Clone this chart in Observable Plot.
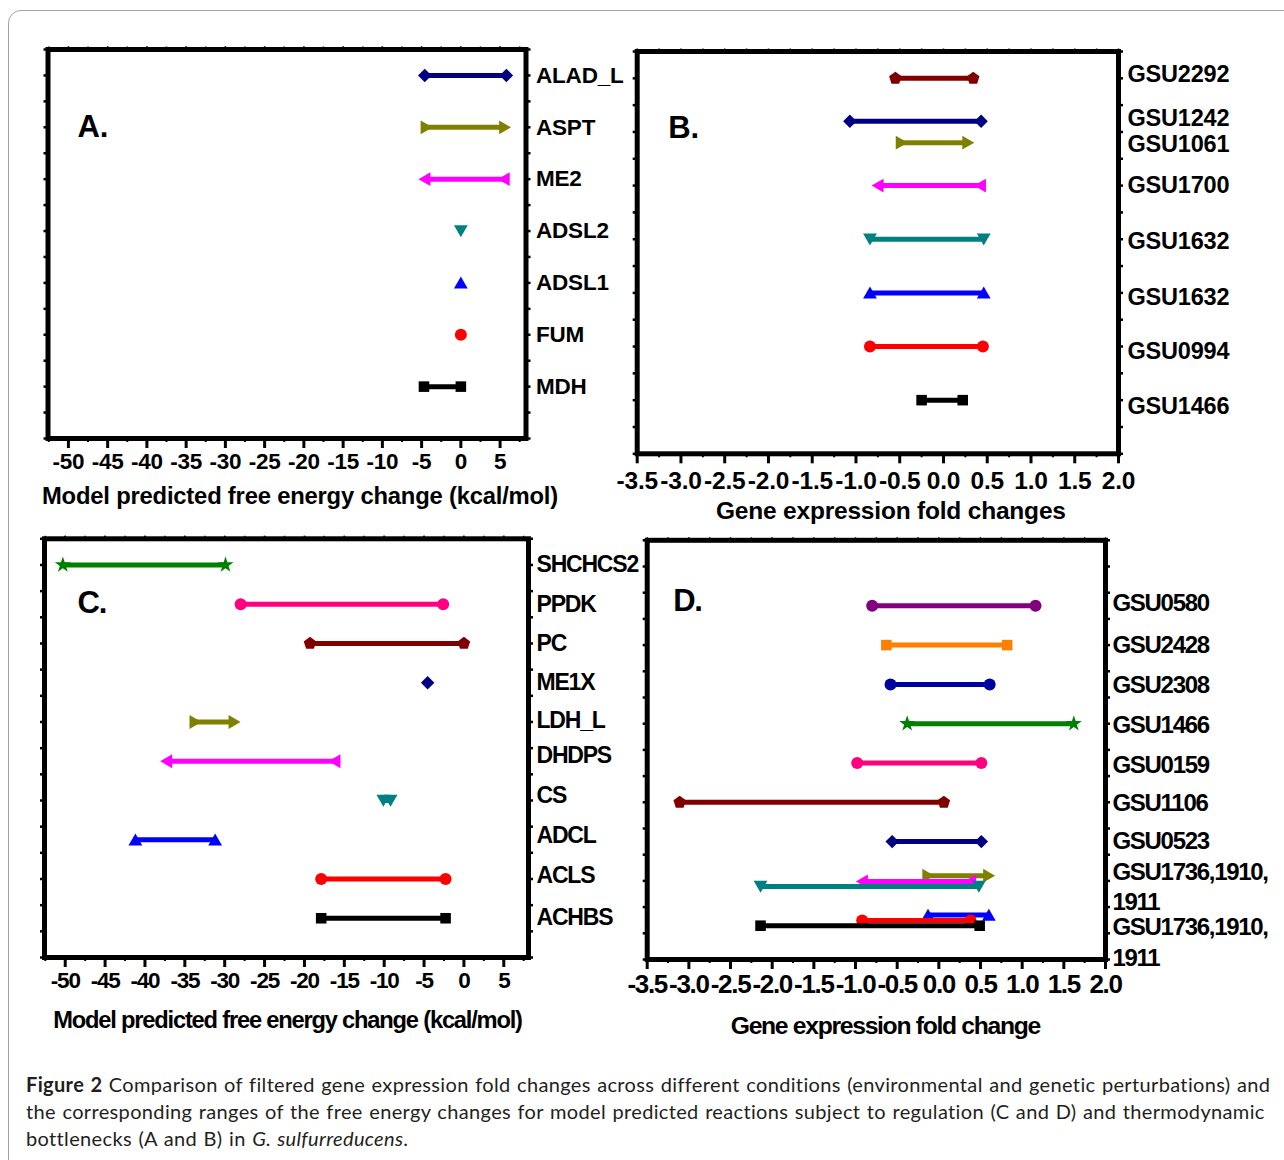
<!DOCTYPE html>
<html><head><meta charset="utf-8">
<script src="https://cdn.jsdelivr.net/npm/d3@7"></script>
<script src="https://cdn.jsdelivr.net/npm/@observablehq/plot@0.6"></script>
<style>
html,body{margin:0;padding:0;background:#fff;}
#fig{position:relative;width:1284px;height:1160px;overflow:hidden;background:#fff;}
#border{position:absolute;left:8px;top:10px;width:1320px;height:1220px;border:1px solid #a3a3a3;border-radius:13px;box-sizing:border-box;}
.panel{position:absolute;}
#caption{position:absolute;left:26px;top:1071px;font-family:Lato,"Open Sans",sans-serif;font-size:20px;letter-spacing:0.35px;word-spacing:1px;line-height:27px;color:#231f20;white-space:nowrap;}
</style></head><body>
<div id="fig">
<div id="border"></div>
<div id="pA" class="panel" style="left:0px;top:0px"></div>
<div id="pB" class="panel" style="left:600px;top:0px"></div>
<div id="pC" class="panel" style="left:0px;top:530px"></div>
<div id="pD" class="panel" style="left:600px;top:530px"></div>
<div id="caption"><b>Figure 2</b> Comparison of filtered gene expression fold changes across different conditions (environmental and genetic perturbations) and<br>the corresponding ranges of the free energy changes for model predicted reactions subject to regulation (C and D) and thermodynamic<br>bottlenecks (A and B) in <i>G. sulfurreducens</i>.</div>
</div>
<script>
// ---------- DATA ----------
// Panel A: thermodynamic bottlenecks, free energy range (kcal/mol)
const labelsA = ["ALAD_L","ASPT","ME2","ADSL2","ADSL1","FUM","MDH"];
const rowsA   = [1,2,3,4,5,6,7];
const lowA    = [-4.6,-4.4,-4.6,0,0,0,-4.7];
const highA   = [5.8,5.6,5.5,0,0,0,0];
const ticksA  = [-50,-45,-40,-35,-30,-25,-20,-15,-10,-5,0,5];

// Panel B: gene expression fold changes (bottleneck genes)
const labelsB    = ["GSU2292","GSU1242","GSU1061","GSU1700","GSU1632","GSU1632","GSU0994","GSU1466"];
const rowsB      = [1,1.8,2.2,3,4,5,6,7];
const labelRowsB = [0.93,1.74,2.24,3.0,4.04,5.09,6.1,7.12];
const lowB       = [-0.55,-1.07,-0.48,-0.75,-0.84,-0.84,-0.84,-0.25];
const highB      = [0.34,0.43,0.28,0.42,0.46,0.46,0.45,0.22];
const ticksB     = [-3.5,-3.0,-2.5,-2.0,-1.5,-1.0,-0.5,0.0,0.5,1.0,1.5,2.0];

// Panel C: reactions subject to regulation, free energy range (kcal/mol)
const labelsC    = ["SHCHCS2","PPDK","PC","ME1X","LDH_L","DHDPS","CS","ADCL","ACLS","ACHBS"];
const rowsC      = [1,2.5,4,5.5,7,8.5,10,11.5,13,14.5];
const labelRowsC = [0.98,2.51,4.0,5.5,6.95,8.29,9.82,11.35,12.88,14.48];
const lowC       = [-50.3,-28.0,-19.3,-4.55,-33.7,-37.3,-10.1,-41.2,-17.9,-17.9];
const highC      = [-29.9,-2.6,0.0,-4.55,-28.8,-16.2,-9.2,-31.2,-2.3,-2.3];
const ticksC     = [-50,-45,-40,-35,-30,-25,-20,-15,-10,-5,0,5];

// Panel D: gene expression fold change (regulated genes)
const seriesD    = ["GSU0580","GSU2428","GSU2308","GSU1466","GSU0159","GSU1106","GSU0523","GSU1736a","GSU1910a","GSU1911a","GSU1736b","GSU1910b","GSU1911b"];
const rowsD      = [2.5,4,5.5,7,8.5,10,11.5,12.8,13.02,13.21,14.3,14.51,14.71];
const lowD       = [-0.80,-0.63,-0.58,-0.38,-0.98,-3.11,-0.56,-0.13,-0.92,-2.14,-0.13,-0.92,-2.14];
const highD      = [1.16,0.82,0.61,1.62,0.51,0.06,0.51,0.60,0.38,0.48,0.60,0.38,0.49];
const labelsD    = ["GSU0580","GSU2428","GSU2308","GSU1466","GSU0159","GSU1106","GSU0523","GSU1736,1910,","1911","GSU1736,1910,","1911"];
const labelRowsD = [2.41,4.02,5.54,7.06,8.59,10.04,11.49,12.67,13.81,14.77,15.97];
const ticksD     = [-3.5,-3.0,-2.5,-2.0,-1.5,-1.0,-0.5,0.0,0.5,1.0,1.5,2.0];

// ---------- STYLES ----------
const colorsA  = ["#000080","#808000","#ff00ff","#008080","#0000ff","#ff0000","#000000"];
const symbolsA = ["diamond","triRight","triLeft","triDown","triUp","circle","square"];
const colorsB  = ["#800000","#000080","#808000","#ff00ff","#008080","#0000ff","#ff0000","#000000"];
const symbolsB = ["pentagon","diamond","triRight","triLeft","triDown","triUp","circle","square"];
const colorsC  = ["#008000","#ff0080","#800000","#000080","#808000","#ff00ff","#008080","#0000ff","#ff0000","#000000"];
const symbolsC = ["star","circle","pentagon","diamond","triRight","triLeft","triDown","triUp","circle","square"];
const colorsD  = ["#800080","#ff8000","#0000a0","#008000","#ff0080","#800000","#000080","#808000","#ff00ff","#008080","#0000ff","#ff0000","#000000"];
const symbolsD = ["circle","square","circle","star","circle","pentagon","diamond","triRight","triLeft","triDown","triUp","circle","square"];

const FONT = "'Liberation Sans', Arial, Helvetica, sans-serif";

function poly(pts) {
  return {draw(c, size) {
    const r = Math.sqrt(size / Math.PI);
    pts.forEach(([px, py], i) => i ? c.lineTo(px * r, py * r) : c.moveTo(px * r, py * r));
    c.closePath();
  }};
}
const pent = d3.range(5).map(k => [1.1 * Math.sin(k * 2 * Math.PI / 5), -1.1 * Math.cos(k * 2 * Math.PI / 5)]);
const SYM = {
  circle: {draw(c, size) { const r = Math.sqrt(size / Math.PI); c.moveTo(r, 0); c.arc(0, 0, r, 0, 2 * Math.PI); }},
  square: {draw(c, size) { const r = Math.sqrt(size / Math.PI) * 0.88; c.rect(-r, -r, 2 * r, 2 * r); }},
  diamond: poly([[0, -1.12], [1.12, 0], [0, 1.12], [-1.12, 0]]),
  triUp: poly([[0, -1.05], [1.15, 0.95], [-1.15, 0.95]]),
  triDown: poly([[0, 1.05], [1.15, -0.95], [-1.15, -0.95]]),
  triRight: poly([[1.05, 0], [-0.95, 1.15], [-0.95, -1.15]]),
  triLeft: poly([[-1.05, 0], [0.95, 1.15], [0.95, -1.15]]),
  pentagon: poly(pent),
  star: {draw(c, size) { d3.symbolStar.draw(c, size * 0.7); }}
};

function range(a, b, s) { const out = []; for (let v = a; v <= b + 1e-9; v += s) out.push(+v.toFixed(4)); return out; }

function panel(o) {
  const marks = [];
  const n = o.rows.length;
  for (let i = 0; i < n; i++) {
    marks.push(Plot.ruleY([i], {y: () => o.rows[i], x1: () => o.low[i], x2: () => o.high[i], stroke: o.colors[i], strokeWidth: o.lineWidth}));
    const pts = o.low[i] === o.high[i] ? [o.low[i]] : [o.low[i], o.high[i]];
    marks.push(Plot.dot(pts, {x: d => d, y: () => o.rows[i], symbol: SYM[o.symbols[i]], fill: o.colors[i], r: o.r}));
  }
  marks.push(
    Plot.frame({stroke: "black", strokeWidth: 5}),
    Plot.axisX({ticks: o.xMinor, tickSize: 4, tickFormat: () => "", label: null, strokeWidth: 2}),
    Plot.axisX({anchor: "top", ticks: o.xTicks.concat(o.xMinor), tickSize: 3.5, tickFormat: () => "", label: null, strokeWidth: 1.5}),
    Plot.axisX({ticks: o.xTicks, tickSize: 10, tickPadding: o.tickPadding, tickFormat: o.tickFormat, label: null,
      strokeWidth: 3, fontSize: o.tickFont, fontWeight: "bold", fontFamily: FONT, fill: "black"}),
    Plot.axisY({anchor: "left", ticks: o.yTicks, tickSize: 4, tickFormat: () => "", label: null, strokeWidth: 2.5}),
    Plot.axisY({anchor: "right", ticks: o.yTicks, tickSize: 4, tickFormat: () => "", label: null, strokeWidth: 2.5}),
    Plot.text(o.labels, {y: (d, i) => o.labelRows[i], text: d => d, frameAnchor: "right", textAnchor: "start", lineAnchor: "middle",
      dx: o.labelDx, fontSize: o.labelFont, fontWeight: "bold", fontFamily: FONT, fill: "black"}),
    Plot.text([o.letter], {text: d => d, frameAnchor: "top-left", textAnchor: "start", lineAnchor: "middle",
      dx: o.letterDx, dy: o.letterDy, fontSize: 31, fontWeight: "bold", fontFamily: FONT, fill: "black"}),
    Plot.text([o.title], {text: d => d, frameAnchor: "bottom", textAnchor: "middle", lineAnchor: "middle",
      dx: o.titleDx, dy: o.titleDy, fontSize: o.titleFont, fontWeight: "bold", fontFamily: FONT, fill: "black"})
  );
  const chart = Plot.plot({
    width: o.width, height: o.height,
    marginLeft: o.m[0], marginRight: o.m[1], marginTop: o.m[2], marginBottom: o.m[3],
    style: `background:transparent;font-family:${FONT};letter-spacing:${o.spacing}px;overflow:visible;`,
    x: {domain: o.xDomain},
    y: {domain: o.yDomain, reverse: true},
    marks
  });
  document.getElementById(o.el).appendChild(chart);
}

const fmtInt = d => String(d);
const fmt1 = d => d.toFixed(1);

panel({el: "pA", width: 640, height: 520, m: [47.5, 114.5, 49, 82],
  xDomain: [-52.6, 8.3], yDomain: [0.5, 8], xTicks: ticksA, xMinor: range(-52.5, 7.5, 2.5), yTicks: range(0.5, 8, 0.5),
  rows: rowsA, low: lowA, high: highA, colors: colorsA, symbols: symbolsA, r: 6, lineWidth: 5,
  labels: labelsA, labelRows: rowsA, labelDx: 10, labelFont: 22.5,
  tickFormat: fmtInt, tickFont: 22.5, tickPadding: 5, spacing: -0.2,
  letter: "A.", letterDx: 29.5, letterDy: 78,
  title: "Model predicted free energy change (kcal/mol)", titleFont: 23.8, titleDx: 13, titleDy: 58});

panel({el: "pB", width: 684, height: 540, m: [36.7, 166, 51, 86.7],
  xDomain: [-3.5, 2.0], yDomain: [0.5, 8], xTicks: ticksB, xMinor: range(-3.25, 1.75, 0.5), yTicks: range(0.5, 8, 0.5),
  rows: rowsB, low: lowB, high: highB, colors: colorsB, symbols: symbolsB, r: 6, lineWidth: 5,
  labels: labelsB, labelRows: labelRowsB, labelDx: 9, labelFont: 23.5,
  tickFormat: fmt1, tickFont: 24.5, tickPadding: 8, spacing: -0.2,
  letter: "B.", letterDx: 31, letterDy: 77,
  title: "Gene expression fold changes", titleFont: 24.5, titleDx: 13, titleDy: 57});

panel({el: "pC", width: 640, height: 520, m: [44, 112, 8.3, 93],
  xDomain: [-52.6, 8.1], yDomain: [0, 16], xTicks: ticksC, xMinor: range(-52.5, 7.5, 2.5), yTicks: range(0, 16, 1),
  rows: rowsC, low: lowC, high: highC, colors: colorsC, symbols: symbolsC, r: 6, lineWidth: 5,
  labels: labelsC, labelRows: labelRowsC, labelDx: 8, labelFont: 23,
  tickFormat: fmtInt, tickFont: 22.5, tickPadding: 5, spacing: -1.2,
  letter: "C.", letterDx: 33, letterDy: 64,
  title: "Model predicted free energy change (kcal/mol)", titleFont: 23.7, titleDx: 1, titleDy: 63});

panel({el: "pD", width: 684, height: 520, m: [46.7, 179, 9.8, 91],
  xDomain: [-3.5, 2.0], yDomain: [0, 16], xTicks: ticksD, xMinor: range(-3.25, 1.75, 0.5), yTicks: range(0, 16, 1),
  rows: rowsD, low: lowD, high: highD, colors: colorsD, symbols: symbolsD, r: 6, lineWidth: 5,
  labels: labelsD, labelRows: labelRowsD, labelDx: 7, labelFont: 24,
  tickFormat: fmt1, tickFont: 26, tickPadding: 5, spacing: -1.3,
  letter: "D.", letterDx: 26, letterDy: 61,
  title: "Gene expression fold change", titleFont: 24.7, titleDx: 9, titleDy: 67});
</script>
</body></html>
